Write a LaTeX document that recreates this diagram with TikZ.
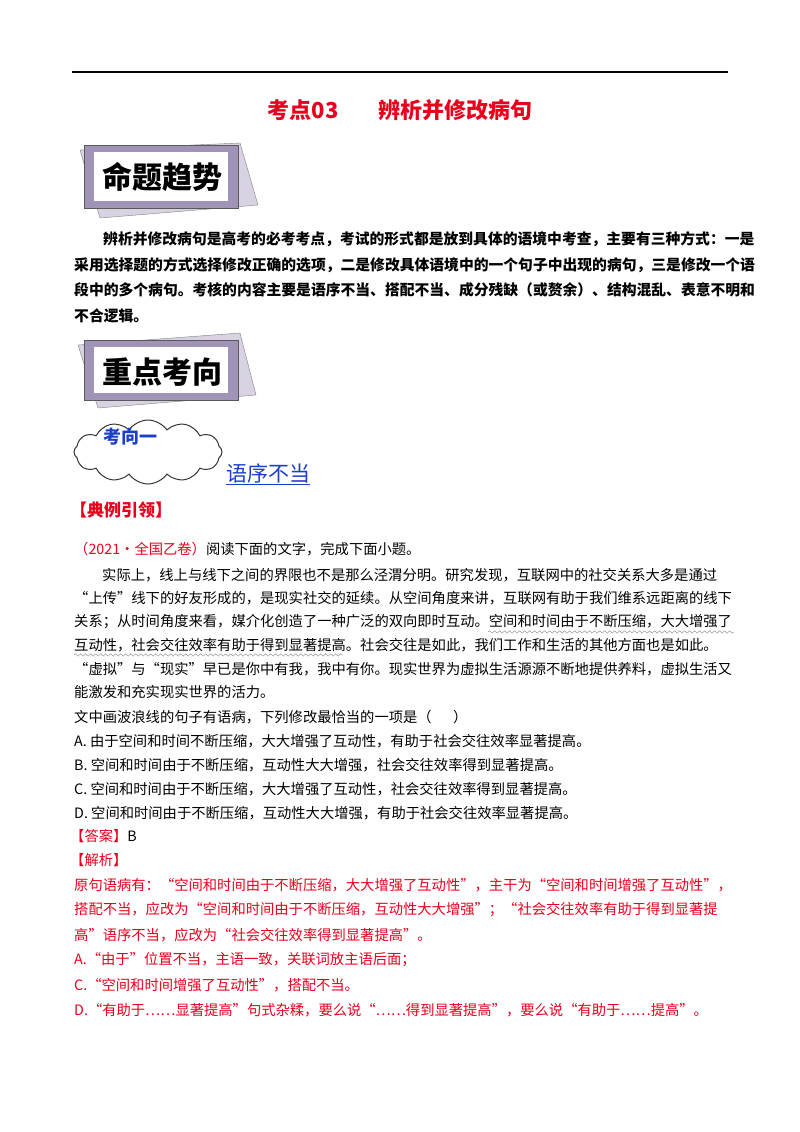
\documentclass[tikz,border=0pt]{standalone}
\usepackage{fontspec}
\setmainfont{Noto Sans CJK SC}
\usetikzlibrary{shapes.symbols,decorations.pathmorphing}
\definecolor{tred}{HTML}{E8001C}
\definecolor{tblue}{HTML}{1A3FC8}
\definecolor{fpurple}{HTML}{A093B8}
\definecolor{bpurple}{HTML}{D8D2E2}
\tikzset{
 ln/.style={anchor=west,inner sep=0pt,font=\fontsize{14.3}{15}\selectfont},
 bl/.style={anchor=west,inner sep=0pt,font=\fontsize{14.8}{15}\selectfont\bfseries},
 rl/.style={ln,text=tred},
 banner/.style={font=\fontsize{30}{30}\selectfont\bfseries,inner sep=0pt}
}
\begin{document}
\begin{tikzpicture}[x=1pt,y=-1pt]
\useasboundingbox (0,0) rectangle (800,1132);
\draw[line width=1.2pt] (72,72) -- (728,72);
\node[text=tred,font=\fontsize{22}{22}\selectfont\bfseries] (title) at (400,110) {考点03\hspace{40pt}辨析并修改病句};
% banner 1
\fill[bpurple,draw=gray] (80,150) -- (240,143) -- (258,205) -- (100,218) -- cycle;
\fill[fpurple,draw=gray!70!black] (84,145) rectangle (238,208);
\fill[white] (94,152) rectangle (228,201);
\node[banner] (b1) at (162,177) {命题趋势};
% paragraph
\node[bl] (p1) at (103,239) {辨析并修改病句是高考的必考考点，考试的形式都是放到具体的语境中考查，主要有三种方式：一是};
\node[bl] (p2) at (74,265) {采用选择题的方式选择修改正确的选项，二是修改具体语境中的一个句子中出现的病句，三是修改一个语};
\node[bl] (p3) at (74,290) {段中的多个病句。考核的内容主要是语序不当、搭配不当、成分残缺（或赘余）、结构混乱、表意不明和};
\node[bl] (p4) at (74,316) {不合逻辑。};
% banner 2
\fill[bpurple,draw=gray] (78,345) -- (240,333) -- (256,395) -- (98,408) -- cycle;
\fill[fpurple,draw=gray!70!black] (84,340) rectangle (238,400);
\fill[white] (94,347) rectangle (228,393);
\node[banner] (b2) at (162,372) {重点考向};
% cloud
\node[cloud,cloud puffs=12,cloud puff arc=110,aspect=2.4,draw=black!80,line width=1pt,minimum width=148pt,minimum height=64pt] (cl) at (148,452) {};
\node[text=tblue,font=\fontsize{18}{18}\selectfont\bfseries] (kx) at (130,437) {考向一};
\node[anchor=west,inner sep=0pt,text=tblue,font=\fontsize{21}{21}\selectfont] (yx) at (226,474) {\underline{语序不当}};
\node[anchor=west,inner sep=0pt,text=tred,font=\fontsize{17}{17}\selectfont\bfseries] (dl) at (70,510) {【典例引领】};
\node[ln] (l0) at (74,549) {\textcolor{tred}{（2021·全国乙卷）}阅读下面的文字，完成下面小题。};
\node[ln] (l1) at (102,575) {实际上，线上与线下之间的界限也不是那么泾渭分明。研究发现，互联网中的社交关系大多是通过};
\node[ln] (l2) at (74,598) {“上传”线下的好友形成的，是现实社交的延续。从空间角度来讲，互联网有助于我们维系远距离的线下};
\node[ln] (l3) at (74,622) {关系；从时间角度来看，媒介化创造了一种广泛的双向即时互动。空间和时间由于不断压缩，大大增强了};
\node[ln] (l4) at (74,645) {互动性，社会交往效率有助于得到显著提高。社会交往是如此，我们工作和生活的其他方面也是如此。};
\node[ln] (l5) at (74,669) {“虚拟”与“现实”早已是你中有我，我中有你。现实世界为虚拟生活源源不断地提供养料，虚拟生活又};
\node[ln] (l6) at (74,692) {能激发和充实现实世界的活力。};
\draw[gray,decorate,decoration={snake,amplitude=1.2pt,segment length=5pt}] (488,632) -- (734,632);
\draw[gray,decorate,decoration={snake,amplitude=1.2pt,segment length=5pt}] (74,655) -- (343,655);
\node[ln] (q) at (74,717) {文中画波浪线的句子有语病，下列修改最恰当的一项是（\hspace{1.5em}）};
\node[ln] (a) at (74,741) {A.\ 由于空间和时间不断压缩，大大增强了互动性，有助于社会交往效率显著提高。};
\node[ln] (b) at (74,765) {B.\ 空间和时间由于不断压缩，互动性大大增强，社会交往效率得到显著提高。};
\node[ln] (c) at (74,789) {C.\ 空间和时间由于不断压缩，大大增强了互动性，社会交往效率得到显著提高。};
\node[ln] (d) at (74,813) {D.\ 空间和时间由于不断压缩，互动性大大增强，有助于社会交往效率显著提高。};
\node[ln] (ans) at (70,836) {\textcolor{tred}{【答案】}B};
\node[rl] (jx) at (70,860) {【解析】};
\node[rl] (r1) at (74,885) {原句语病有：“空间和时间由于不断压缩，大大增强了互动性”，主干为“空间和时间增强了互动性”，};
\node[rl] (r2) at (74,910) {搭配不当，应改为“空间和时间由于不断压缩，互动性大大增强”；“社会交往效率有助于得到显著提};
\node[rl] (r3) at (74,935) {高”语序不当，应改为“社会交往效率得到显著提高”。};
\node[rl] (r4) at (74,960) {A.“由于”位置不当，主语一致，关联词放主语后面；};
\node[rl] (r5) at (74,985) {C.“空间和时间增强了互动性”，搭配不当。};
\node[rl] (r6) at (74,1010) {D.“有助于……显著提高”句式杂糅，要么说“……得到显著提高”，要么说“有助于……提高”。};
\end{tikzpicture}
\end{document}
